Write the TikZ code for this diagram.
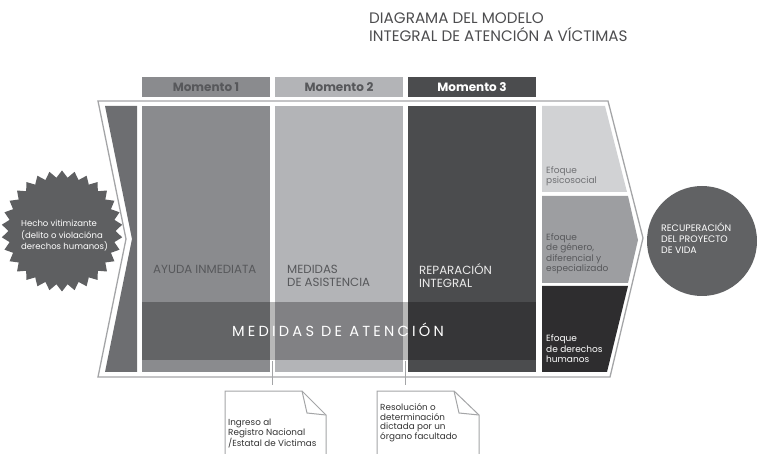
\documentclass[tikz,border=0pt]{standalone}
\usepackage{fontspec}
\setmainfont{Poppins}
\newfontfamily\spacedfont[LetterSpace=22]{Poppins}
\usetikzlibrary{shapes.geometric}
\definecolor{contorno}{HTML}{A4A5A7}
\definecolor{titulo}{HTML}{4D4D4F}
\definecolor{grisuno}{HTML}{8A8B8E}
\definecolor{grisdos}{HTML}{B3B4B7}
\definecolor{gristres}{HTML}{4B4C4E}
\definecolor{grisborde}{HTML}{6D6E71}
\definecolor{efuno}{HTML}{D1D2D4}
\definecolor{efdos}{HTML}{9D9EA1}
\definecolor{eftres}{HTML}{2E2D2F}
\definecolor{textogris}{HTML}{57585B}
\definecolor{estrella}{HTML}{5E5F61}
\definecolor{circulo}{HTML}{616264}
\begin{document}
\begin{tikzpicture}[x=1pt,y=-1pt,
  texto/.style={anchor=north west, align=left, inner sep=0, font=\fontsize{9}{10.5}\selectfont},
  momento/.style={font=\bfseries\fontsize{12}{12}\selectfont, inner sep=0},
  etiqueta/.style={anchor=north west, align=left, inner sep=0, font=\fontsize{11.8}{13.3}\selectfont},
  nota/.style={anchor=north west, align=left, inner sep=0, font=\fontsize{8.8}{9.6}\selectfont}]
    \useasboundingbox (0,0) rectangle (758,454);
    \clip (0,0) rectangle (758,454);
    % titulo
    \node[anchor=north west, align=left, inner sep=0, text=titulo, font=\fontsize{15.2}{18.3}\selectfont] (titulo) at (369,12.5) {DIAGRAMA DEL MODELO\\INTEGRAL DE ATENCIÓN A VÍCTIMAS};
    % momentos
    \fill[grisuno] (142,77) rectangle (270,97);
    \fill[grisdos] (275,77) rectangle (403,97);
    \fill[gristres] (408,77) rectangle (536,97);
    \node[momento, text=textogris] (m1) at (206,87) {Momento 1};
    \node[momento, text=textogris] (m2) at (339,87) {Momento 2};
    \node[momento, text=white] (m3) at (472,87) {Momento 3};
    % contorno
    \draw[contorno, line width=1.3] (98,101) -- (608,101) -- (643,238) -- (610,377) -- (98,377) -- (126,239) -- cycle;
    \fill[grisborde] (105,106) -- (137,106) -- (137,372) -- (105,372) -- (132,239) -- cycle;
    % columnas
    \fill[grisuno] (142,106) rectangle (270,372);
    \fill[grisdos] (275,106) rectangle (403,372);
    \fill[gristres] (408,106) rectangle (536,372);
    \node[etiqueta, text=textogris] (ayuda) at (153,265) {AYUDA INMEDIATA};
    \node[etiqueta, text=textogris] (asistencia) at (287,265) {MEDIDAS\\DE ASISTENCIA};
    \node[etiqueta, text=white!92!black] (reparacion) at (419,263) {REPARACIÓN\\INTEGRAL};
    \fill[black, opacity=0.28] (142,302) rectangle (536,360);
    \node[text=white, inner sep=0, font=\spacedfont\fontsize{14.6}{14.6}\selectfont] (atencion) at (338,330) {MEDIDAS DE ATENCIÓN};
    % enfoques
    \fill[efuno] (542,106) -- (605,106) -- (627,192) -- (542,192) -- cycle;
    \fill[efdos] (542,196) -- (628,196) -- (638,240) -- (628,283) -- (542,283) -- cycle;
    \fill[eftres] (542,286) -- (628,286) -- (607,372) -- (542,372) -- cycle;
    \node[texto, text=textogris!85!white] (psico) at (546,166) {Efoque\\psicosocial};
    \node[texto, text=textogris] (genero) at (546,233) {Efoque\\de género,\\diferencial y\\especializado};
    \node[texto, text=white] (derechos) at (546,334.5) {Efoque\\de derechos\\humanos};
    % hecho victimizante
    \node[star, star points=30, star point ratio=1.13, minimum size=121, inner sep=0, fill=estrella] (hecho) at (62,231) {};
    \node[texto, text=white, font=\fontsize{8.5}{11.5}\selectfont] (hechotexto) at (21,220) {Hecho vitimizante\\(delito o violacióna\\derechos humanos)};
    % recuperacion
    \node[circle, minimum size=110, inner sep=0, fill=circulo] (vida) at (702,241) {};
    \node[texto, text=white, font=\fontsize{9.4}{10.8}\selectfont] (vidatexto) at (661,222.5) {RECUPERACIÓN\\DEL PROYECTO\\DE VIDA};
    % notas
    \coordinate (gapuno) at (272.5,361);
    \coordinate (gapdos) at (405.5,361);
    \coordinate (notauno) at (272.5,385);
    \coordinate (notados) at (405.5,385);
    \draw[contorno, line width=1] (gapuno) -- (notauno);
    \draw[contorno, line width=1] (gapdos) -- (notados);
    \draw[contorno, line width=1, fill=white] (225,460) -- (225,391) -- (302,391) -- (326,415) -- (326,460);
    \draw[contorno, line width=1] (302,391) -- (307,413) -- (326,415);
    \draw[contorno, line width=1, fill=white] (377,460) -- (377,391) -- (454,391) -- (479,415) -- (479,460);
    \draw[contorno, line width=1] (454,391) -- (459,413) -- (479,415);
    \node[nota, text=black!80] (ingreso) at (228,419) {Ingreso al\\Registro Nacional\\/Estatal de Victimas};
    \node[nota, text=black!80] (resolucion) at (380,403.5) {Resolución o\\determinación\\dictada por un\\órgano facultado};
\end{tikzpicture}
\end{document}
